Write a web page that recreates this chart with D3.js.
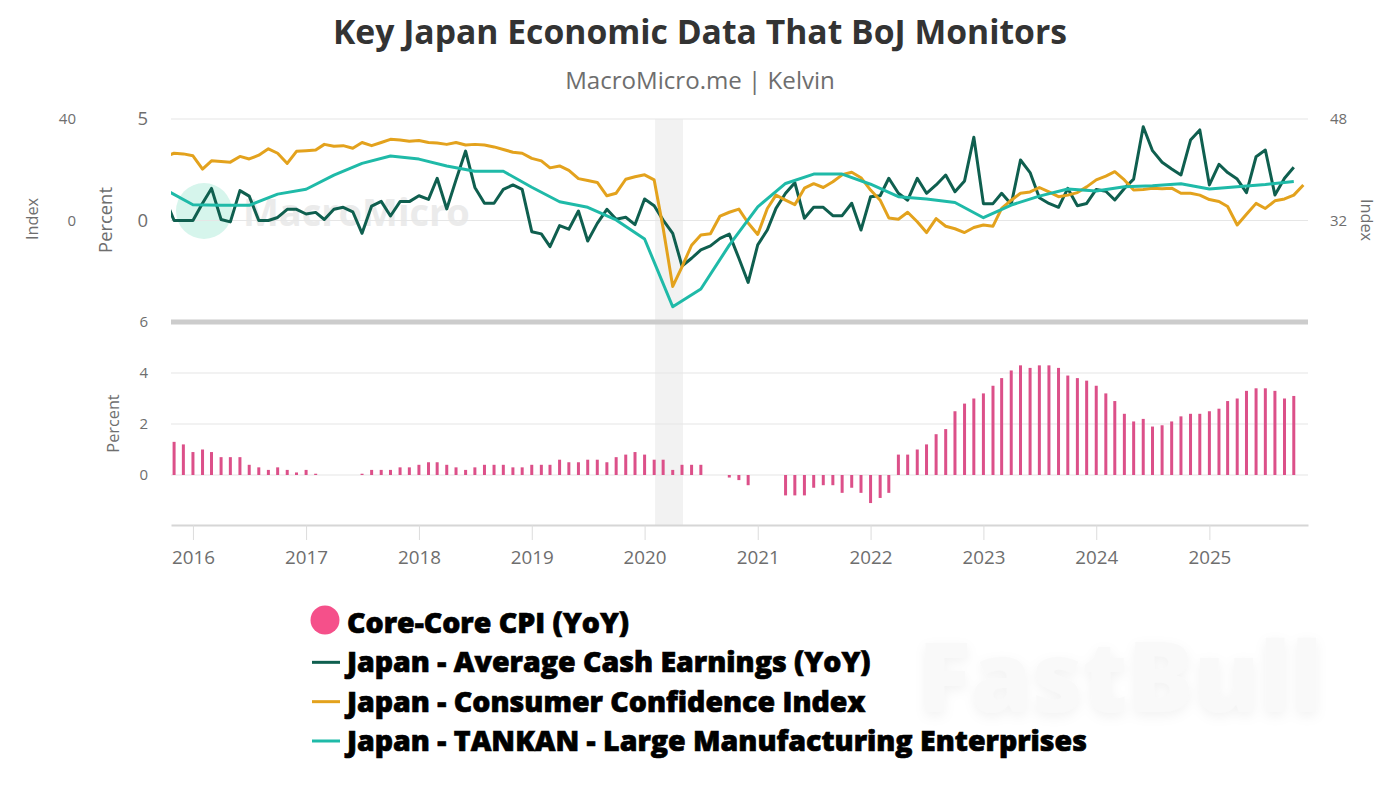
<!DOCTYPE html>
<html>
<head>
<meta charset="utf-8">
<script src="https://cdn.jsdelivr.net/npm/d3@7"></script>
<style>
  html, body { margin: 0; padding: 0; background: #fff; }
  svg { display: block; }
  text { font-family: "Open Sans", sans-serif; fill: #6e6e6e; }
</style>
</head>
<body>
<svg id="chart" width="1400" height="787"></svg>
<script>
const title = "Key Japan Economic Data That BoJ Monitors";
const subtitle = "MacroMicro.me | Kelvin";

// monthly, first value is Oct 2015
const earnings = [
  1.16, 0, 0,
  0, 0.85, 1.58, 0.05, -0.07, 1.47, 1.2, 0, 0, 0.15, 0.55, 0.55,
  0.32, 0.4, 0.05, 0.55, 0.65, 0.43, -0.63, 0.71, 0.94, 0.22, 0.93, 0.93,
  1.22, 1.04, 2.08, 0.57, 2.0, 3.42, 1.63, 0.85, 0.85, 1.53, 1.75, 1.53,
  -0.55, -0.66, -1.29, -0.25, -0.43, 0.47, -1.01, -0.14, 0.55, 0.06, 0.16, -0.2,
  1.06, 0.73, 0.02, -0.63, -2.24, -1.86, -1.45, -1.25, -0.88, -0.67, -1.86, -3.05,
  -1.2, -0.47, 0.6, 1.34, 1.86, 0.11, 0.65, 0.65, 0.24, 0.24, 0.85, -0.47,
  1.17, 1.22, 2.08, 1.34, 1.0, 2.08, 1.34, 1.75, 2.24, 1.42, 1.95, 4.1,
  0.83, 0.83, 1.34, 0.8, 2.98, 2.36, 1.12, 0.84, 0.65, 1.58, 0.73, 0.84,
  1.53, 1.44, 1.01, 1.58, 2.04, 4.62, 3.44, 2.87, 2.54, 2.24, 3.96, 4.46,
  1.75, 2.77, 2.36, 2.04, 1.37, 3.14, 3.47, 1.26, 2.08, 2.62
];

// monthly, first value is Oct 2015, one month longer than earnings
const confidence = [
  42.0, 42.6, 42.5,
  42.2, 40.1, 41.4, 41.3, 41.2, 42.1, 41.7, 42.3, 43.3, 42.6, 41.0, 42.9,
  43.0, 43.1, 44.0, 43.7, 43.8, 43.4, 44.3, 43.8, 44.3, 44.8, 44.7, 44.5,
  44.6, 44.3, 44.2, 44.0, 44.3, 43.9, 44.0, 43.9, 43.6, 43.2, 42.75, 42.6,
  41.8, 41.4, 40.3, 40.6, 39.9, 38.6, 38.3, 38.0, 35.9, 36.3, 38.5, 38.9,
  39.2, 38.4, 30.8, 21.6, 24.7, 28.1, 29.7, 29.9, 32.7, 33.3, 33.8, 31.6,
  29.8, 33.9, 36.0, 35.2, 34.5, 37.1, 37.8, 37.2, 38.1, 39.2, 39.6, 38.75,
  36.8, 35.2, 32.4, 32.2, 33.3, 31.8, 30.1, 32.3, 31.1, 30.7, 30.1, 30.9,
  31.3, 31.1, 33.9, 35.2, 36.3, 36.5, 37.2, 36.5, 35.75, 36.0, 36.4, 37.3,
  38.4, 39.0, 39.7, 38.4, 36.8, 36.9, 37.1, 37.0, 37.1, 36.3, 36.3, 36.0,
  35.3, 35.0, 34.2, 31.3, 33.0, 34.7, 33.9, 35.1, 35.4, 36.0, 37.6
];

// quarterly, first value is Oct 2015
const tankan = [
  12.3,
  6.2, 6, 6, 10.4,
  12.3, 17.9, 22.5, 25.4,
  24.2, 21.5, 19.4, 19.4,
  13.1, 7.4, 5.2, 0.2,
  -7.3, -34, -27, -9.7,
  5.4, 14.6, 18.3, 18.3,
  14.3, 9.4, 8.5, 7.1,
  1.1, 6.1, 9.6, 12.4,
  11.6, 13.3, 13.7, 14.5,
  12.4, 13.3, 14.2, 15.4
];

// monthly, first value is Nov 2015
const coreCore = [
  1.3, 1.2,
  0.9, 1.0, 0.9, 0.7, 0.7, 0.7, 0.4, 0.3, 0.2, 0.3, 0.2, 0.1,
  0.2, 0.05, 0, 0, 0, 0, 0.05, 0.2, 0.2, 0.2, 0.3, 0.3,
  0.4, 0.5, 0.5, 0.4, 0.3, 0.2, 0.3, 0.4, 0.4, 0.4, 0.3, 0.3,
  0.4, 0.4, 0.4, 0.6, 0.5, 0.5, 0.6, 0.6, 0.5, 0.7, 0.8, 0.9,
  0.8, 0.6, 0.6, 0.2, 0.4, 0.4, 0.4, 0, 0, -0.1, -0.2, -0.4,
  0, 0, 0, -0.8, -0.8, -0.8, -0.5, -0.4, -0.4, -0.7, -0.5, -0.7,
  -1.1, -0.9, -0.7, 0.8, 0.8, 1.0, 1.2, 1.6, 1.8, 2.5, 2.8, 3.0,
  3.2, 3.5, 3.8, 4.1, 4.3, 4.2, 4.3, 4.3, 4.2, 3.9, 3.8, 3.7,
  3.5, 3.2, 2.9, 2.4, 2.1, 2.2, 1.9, 1.95, 2.1, 2.3, 2.4, 2.4,
  2.5, 2.6, 2.9, 3.0, 3.3, 3.4, 3.4, 3.3, 3.0, 3.1
];

const legendNames = [
  "Core-Core CPI (YoY)",
  "Japan - Average Cash Earnings (YoY)",
  "Japan - Consumer Confidence Index",
  "Japan - TANKAN - Large Manufacturing Enterprises"
];
const legendColors = ["#f5508a", "#0f5f4f", "#e3a21d", "#1fbaa8"];

const percentTicks = [5, 0];
const tankanTicks = [40, 0];
const confidenceTicks = [48, 32];
const cpiTicks = [6, 4, 2, 0];
const shaded = [new Date(2020, 1, 4), new Date(2020, 4, 4)];

const svg = d3.select("#chart");
const left = 171, right = 1308;

const x = d3.scaleTime()
  .domain([new Date(2015, 9, 22), new Date(2025, 10, 16)])
  .range([left, right]);
const yPercent = d3.scaleLinear().domain([-5, 5]).range([322, 119]);
const yTankan = d3.scaleLinear().domain([-40, 40]).range([322, 119]);
const yConfidence = d3.scaleLinear().domain([16, 48]).range([322, 119]);
const yCpi = d3.scaleLinear().domain([-2, 6]).range([526, 322]);

const oct2015 = new Date(2015, 9, 1);
const nov2015 = new Date(2015, 10, 1);

svg.append("defs").append("clipPath").attr("id", "plot")
  .append("rect")
  .attr("x", left).attr("y", 100)
  .attr("width", right - left).attr("height", 440);

// titles
svg.append("text")
  .attr("x", 700).attr("y", 44)
  .attr("text-anchor", "middle")
  .attr("font-size", 33.7).attr("font-weight", 700)
  .style("fill", "#333")
  .text(title);
svg.append("text")
  .attr("x", 700).attr("y", 89)
  .attr("text-anchor", "middle")
  .attr("font-size", 24.1)
  .text(subtitle);

// watermarks
svg.append("circle")
  .attr("cx", 204).attr("cy", 211).attr("r", 28)
  .attr("fill", "#d6f5ec");
svg.append("text")
  .attr("x", 243).attr("y", 226)
  .attr("font-size", 38).attr("font-weight", 700)
  .style("fill", "#ebebeb")
  .text("MacroMicro");
svg.append("text")
  .attr("x", 918).attr("y", 712)
  .attr("font-size", 98).attr("font-weight", 800)
  .style("fill", "#f9f9f9")
  .style("filter", "drop-shadow(0 4px 6px rgba(0,0,0,0.05))")
  .text("FastBull");

// recession band
svg.append("rect")
  .attr("x", x(shaded[0])).attr("y", 119)
  .attr("width", x(shaded[1]) - x(shaded[0])).attr("height", 407)
  .attr("fill", "#f2f2f2");

function grid(scale, ticks) {
  svg.append("g")
    .selectAll("line")
    .data(ticks)
    .join("line")
    .attr("x1", left).attr("x2", right)
    .attr("y1", d => scale(d)).attr("y2", d => scale(d))
    .attr("stroke", "#e6e6e6").attr("stroke-width", 1.2);
}
grid(yPercent, percentTicks);
grid(yCpi, cpiTicks.filter(d => d != 6));

function valueAxis(gen, scale, ticks, xPos, fontSize) {
  const g = svg.append("g")
    .attr("transform", `translate(${xPos},0)`)
    .call(gen(scale).tickValues(ticks).tickSize(0).tickPadding(0).tickFormat(d3.format("d")));
  g.select(".domain").remove();
  g.selectAll("text").attr("font-size", fontSize).attr("font-family", null);
}
valueAxis(d3.axisLeft, yPercent, percentTicks, 148, 18.5);
valueAxis(d3.axisLeft, yTankan, tankanTicks, 76, 15);
valueAxis(d3.axisRight, yConfidence, confidenceTicks, 1330, 15);
valueAxis(d3.axisLeft, yCpi, cpiTicks, 148, 15);

function rotated(label, px, py, angle, fontSize) {
  svg.append("text")
    .attr("transform", `translate(${px},${py}) rotate(${angle})`)
    .attr("text-anchor", "middle")
    .attr("font-size", fontSize)
    .text(label);
}
rotated("Index", 37.5, 219, -90, 16.3);
rotated("Percent", 112, 220, -90, 18.4);
rotated("Percent", 118.5, 423.5, -90, 16.3);
rotated("Index", 1361, 220, 90, 16.3);

// panel divider
svg.append("line")
  .attr("x1", left).attr("x2", right)
  .attr("y1", 322).attr("y2", 322)
  .attr("stroke", "#cccccc").attr("stroke-width", 5);

// bottom axis
const xAxis = svg.append("g")
  .attr("transform", "translate(0,525)")
  .call(d3.axisBottom(x).ticks(d3.timeYear.every(1)).tickSizeInner(15).tickSizeOuter(0).tickPadding(11).tickFormat(d3.timeFormat("%Y")));
xAxis.select(".domain").attr("stroke", "#d6d6d6").attr("stroke-width", 2);
xAxis.selectAll(".tick line").attr("stroke", "#dcdcdc");
xAxis.selectAll("text").attr("font-size", 18.8).attr("font-family", null);

// bars
svg.append("g")
  .attr("clip-path", "url(#plot)")
  .selectAll("rect")
  .data(coreCore)
  .join("rect")
  .attr("x", (d, i) => x(d3.timeMonth.offset(nov2015, i)) - 1.5)
  .attr("y", d => yCpi(Math.max(d, 0)))
  .attr("width", 3)
  .attr("height", d => Math.abs(yCpi(d) - yCpi(0)))
  .attr("fill", "#dc5089");

// lines
function drawLine(values, start, stepMonths, scale, color) {
  const line = d3.line()
    .x((d, i) => x(d3.timeMonth.offset(start, i * stepMonths)))
    .y(d => scale(d));
  svg.append("path")
    .attr("clip-path", "url(#plot)")
    .attr("d", line(values))
    .attr("fill", "none")
    .attr("stroke", color)
    .attr("stroke-width", 3)
    .attr("stroke-linejoin", "round");
}
drawLine(earnings, oct2015, 1, yPercent, legendColors[1]);
drawLine(confidence, oct2015, 1, yConfidence, legendColors[2]);
drawLine(tankan, oct2015, 3, yTankan, legendColors[3]);

// legend
const legendY = d3.scaleLinear().domain([0, 3]).range([623, 741]);
const legend = svg.append("g")
  .selectAll("g")
  .data(legendNames)
  .join("g")
  .attr("transform", (d, i) => `translate(0,${legendY(i)})`);
legend.filter((d, i) => i == 0).append("circle")
  .attr("cx", 325).attr("cy", -3).attr("r", 14.5)
  .attr("fill", legendColors[0]);
legend.filter((d, i) => i > 0).append("line")
  .attr("x1", 312).attr("x2", 340)
  .attr("stroke", (d, i) => legendColors[i + 1])
  .attr("stroke-width", 3);
legend.append("text")
  .attr("x", 347).attr("y", 10)
  .attr("font-size", 28.5).attr("font-weight", 800)
  .style("fill", "#000").style("stroke", "#000").style("stroke-width", 0.7)
  .text(d => d);
</script>
</body>
</html>
